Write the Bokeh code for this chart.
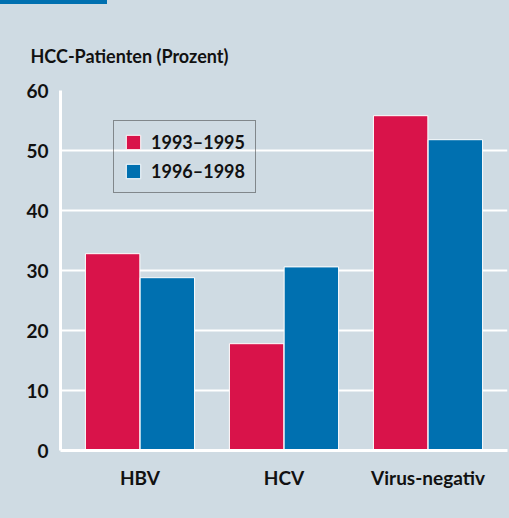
from bokeh.plotting import figure
from bokeh.layouts import column
from bokeh.models import (FixedTicker, Legend, LegendItem, Div, ColumnDataSource)
from bokeh.embed import file_html
from bokeh.resources import INLINE
from bokeh.transform import dodge

categories = ["HBV", "HCV", "Virus-negativ"]
series_names = ["1993–1995", "1996–1998"]
values_1993_1995 = [32.8, 17.8, 55.8]
values_1996_1998 = [28.8, 30.6, 51.8]
y_ticks = [0, 10, 20, 30, 40, 50, 60]
y_title = "HCC-Patienten (Prozent)"

RED = "#d9134a"
BLUE = "#0070b0"
BG = "#cfdbe3"
FONT = "Lato"
TXT = "#111111"

x_idx = list(range(len(categories)))
src = ColumnDataSource(dict(x=x_idx, a=values_1993_1995, b=values_1996_1998))

p = figure(width=509, height=514, output_backend="svg", toolbar_location=None,
           x_range=(-0.552, 2.552), y_range=(0, 60),
           min_border_left=60, min_border_right=2, min_border_top=86,
           min_border_bottom=68)
p.background_fill_color = BG
p.border_fill_color = BG
p.outline_line_color = None
p.margin = (0, 0, 0, 0)

r1 = p.vbar(x=dodge("x", -0.19, range=p.x_range), top="a", width=0.378, source=src,
            fill_color=RED, line_color="white", line_width=1)
r2 = p.vbar(x=dodge("x", 0.19, range=p.x_range), top="b", width=0.378, source=src,
            fill_color=BLUE, line_color="white", line_width=1)

# title (axis caption above the plot)
p.title.text = y_title
p.title.align = "left"
p.title.offset = -30
p.title.standoff = 47
p.title.text_font = FONT
p.title.text_font_size = "18px"
p.title.text_font_style = "bold"
p.title.text_color = TXT

# axes
p.xaxis.ticker = FixedTicker(ticks=x_idx)
p.xaxis.major_label_overrides = {i: c for i, c in zip(x_idx, categories)}
p.yaxis.ticker = FixedTicker(ticks=y_ticks)
for ax in (p.xaxis[0], p.yaxis[0]):
    ax.axis_line_color = "white"
    ax.axis_line_width = 3
    ax.major_tick_line_color = None
    ax.minor_tick_line_color = None
    ax.major_label_text_font = FONT
    ax.major_label_text_font_style = "bold"
    ax.major_label_text_color = TXT
p.xaxis.major_label_text_font_size = "19px"
p.xaxis.major_label_standoff = 9
p.yaxis.major_label_text_font_size = "19px"
p.yaxis.major_label_standoff = 6

p.xgrid.grid_line_color = None
p.ygrid.ticker = FixedTicker(ticks=y_ticks)
p.ygrid.grid_line_color = "white"
p.ygrid.grid_line_width = 2

legend = Legend(items=[LegendItem(label=series_names[0], renderers=[r1]),
                       LegendItem(label=series_names[1], renderers=[r2])],
                location=(53, 257))
legend.border_line_color = "#333333"
legend.border_line_width = 1
legend.background_fill_alpha = 0
legend.padding = 10
legend.margin = 0
legend.spacing = 7
legend.glyph_width = 18
legend.glyph_height = 18
legend.label_height = 18
legend.label_standoff = 9
legend.label_text_font = FONT
legend.label_text_font_size = "18px"
legend.label_text_font_style = "bold"
legend.label_text_color = TXT
p.add_layout(legend)

strip = Div(text="", width=107, height=4, margin=(0, 0, 0, 0),
            styles={"background-color": BLUE})

layout = column(strip, p, spacing=0, margin=(0, 0, 0, 0))

html = file_html(layout, INLINE)
html = html.replace("<head>", "<head><style>html,body{margin:0;padding:0;background:%s;overflow:hidden}</style>" % BG, 1)
open("out.html", "w").write(html)
